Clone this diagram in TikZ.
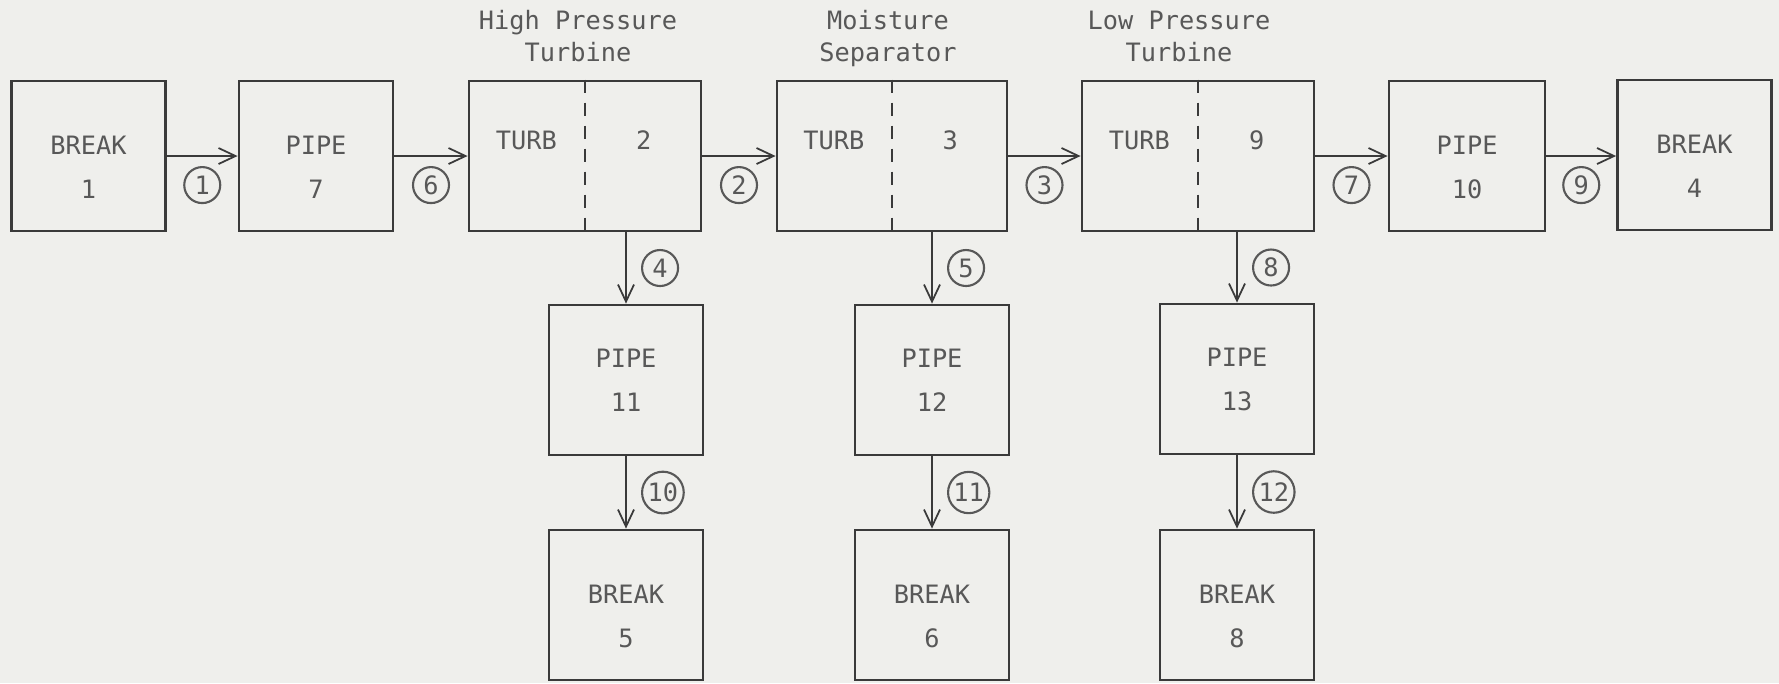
\documentclass[tikz,border=0pt]{standalone}
\usepackage{fontspec}
\setmonofont{DejaVu Sans Mono}
\usetikzlibrary{arrows.meta,positioning,calc}
\definecolor{paper}{RGB}{239,239,236}
\definecolor{ink}{RGB}{58,58,58}
\definecolor{type}{RGB}{88,88,88}

\begin{document}
\begin{tikzpicture}[x=1mm,y=-1mm,
  font=\ttfamily\fontsize{7.2}{12.5}\selectfont,
  blk/.style={draw=ink,line width=0.8pt,minimum width=15.4mm,minimum height=15mm,align=center,text=type,inner sep=0pt},
  low/.style={text height=24pt,text depth=0pt},
  turb/.style={blk,minimum width=23.2mm},
  ttl/.style={align=center,text=type,inner sep=0pt,text depth=0pt,font=\ttfamily\fontsize{7.2}{9.2}\selectfont},
  tag/.style={circle,draw=type,line width=0.6pt,inner sep=0.6pt,minimum size=3.6mm,text=type},
  flow/.style={draw=ink,line width=0.5pt,-{Straight Barb[length=1.7mm,width=1.6mm]}}]
  \fill[paper] (0,0) rectangle (177.9,68.3);
  \useasboundingbox (0,0) rectangle (177.9,68.3);
  % main line
  \node[blk,low] (brk1) at (8.85,15.6) {BREAK\\1};
  \node[blk,low] (pipe7) at (31.6,15.6) {PIPE\\7};
  \node[turb] (hp) at (58.5,15.6) {};
  \node[turb,minimum width=23mm] (ms) at (89.2,15.6) {};
  \node[turb] (lp) at (119.8,15.6) {};
  \node[blk,low,minimum width=15.6mm] (pipe10) at (146.7,15.6) {PIPE\\10};
  \node[blk,low] (brk4) at (169.45,15.5) {BREAK\\4};
  % branches
  \node[blk] (pipe11) at (62.6,38) {PIPE\\11};
  \node[blk,low] (brk5) at (62.6,60.5) {BREAK\\5};
  \node[blk] (pipe12) at (93.2,38) {PIPE\\12};
  \node[blk,low] (brk6) at (93.2,60.5) {BREAK\\6};
  \node[blk] (pipe13) at (123.7,37.9) {PIPE\\13};
  \node[blk,low] (brk8) at (123.7,60.5) {BREAK\\8};
  % turbine volumes
  \foreach \t/\n in {hp/2,ms/3,lp/9}{
    \draw[ink,line width=0.5pt,dash pattern=on 1.3mm off 1mm] (\t.north) -- (\t.south);
    \node[text=type] (\t-l) at ($(\t.west)!0.5!(\t.center)+(0,-1.6)$) {TURB};
    \node[text=type] (\t-r) at ($(\t.east)!0.5!(\t.center)+(0,-1.6)$) {\n};
  }
  \node[ttl,above=1.7mm of hp,xshift=-0.7mm] (hp-t) {High Pressure\\Turbine};
  \node[ttl,above=1.7mm of ms,xshift=-0.4mm] (ms-t) {Moisture\\Separator};
  \node[ttl,above=1.7mm of lp,xshift=-1.9mm] (lp-t) {Low Pressure\\Turbine};
  % junctions
  \draw[flow] (brk1) -- node[tag,midway,below=1mm]{1} (pipe7);
  \draw[flow] (pipe7) -- node[tag,midway,below=1mm]{6} (hp);
  \draw[flow] (hp) -- node[tag,midway,below=1mm]{2} (ms);
  \draw[flow] (ms) -- node[tag,midway,below=1mm]{3} (lp);
  \draw[flow] (lp) -- node[tag,midway,below=1mm]{7} (pipe10);
  \draw[flow] (pipe10.east) -- node[tag,midway,below=1mm]{9} (pipe10.east -| brk4.west);
  \draw[flow] (pipe11.north |- hp.south) -- node[tag,midway,right=1.5mm]{4} (pipe11);
  \draw[flow] (pipe12.north |- ms.south) -- node[tag,midway,right=1.5mm]{5} (pipe12);
  \draw[flow] (pipe13.north |- lp.south) -- node[tag,midway,right=1.5mm]{8} (pipe13);
  \draw[flow] (pipe11) -- node[tag,midway,right=1.5mm]{10} (brk5);
  \draw[flow] (pipe12) -- node[tag,midway,right=1.5mm]{11} (brk6);
  \draw[flow] (pipe13) -- node[tag,midway,right=1.5mm]{12} (brk8);
\end{tikzpicture}
\end{document}
